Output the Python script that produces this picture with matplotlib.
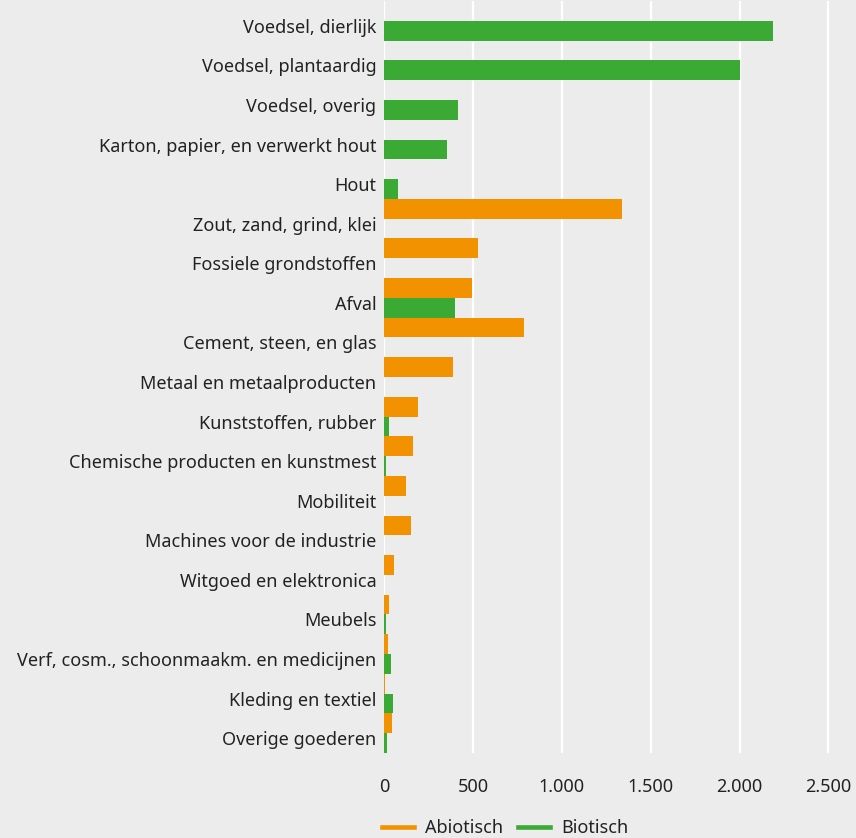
import matplotlib
matplotlib.use("Agg")
import matplotlib.pyplot as plt
import matplotlib.transforms as mtransforms
from matplotlib.lines import Line2D
from matplotlib.ticker import FuncFormatter
import numpy as np

plt.rcParams['font.family'] = ['Noto Sans', 'DejaVu Sans']

categories = [
    "Voedsel, dierlijk",
    "Voedsel, plantaardig",
    "Voedsel, overig",
    "Karton, papier, en verwerkt hout",
    "Hout",
    "Zout, zand, grind, klei",
    "Fossiele grondstoffen",
    "Afval",
    "Cement, steen, en glas",
    "Metaal en metaalproducten",
    "Kunststoffen, rubber",
    "Chemische producten en kunstmest",
    "Mobiliteit",
    "Machines voor de industrie",
    "Witgoed en elektronica",
    "Meubels",
    "Verf, cosm., schoonmaakm. en medicijnen",
    "Kleding en textiel",
    "Overige goederen",
]
abiotisch = [0, 0, 0, 0, 0, 1339, 529, 495, 787, 388, 191, 163, 124, 152, 56, 28, 22, 5, 45]
biotisch = [2188, 2002, 416, 354, 79, 0, 0, 399, 0, 0, 28, 10, 0, 0, 0, 10, 39, 51, 17]

ORANGE = "#f39200"
GREEN = "#3aaa35"
BG = "#ececec"
TEXT = "#222222"

fig = plt.figure(figsize=(8.56, 8.38), dpi=100)
fig.patch.set_facecolor(BG)
ax = fig.add_axes([384 / 856, 1 - 753 / 838, (2530 * 0.17778) / 856, 752 / 838])
ax.set_facecolor(BG)

y = np.arange(len(categories))
ax.barh(y + 0.25, abiotisch, height=0.5, color=ORANGE, zorder=3)
ax.barh(y + 0.75, biotisch, height=0.5, color=GREEN, zorder=3)

ax.set_ylim(len(categories), 0)
ax.set_xlim(0, 2530)
ax.set_xticks([0, 500, 1000, 1500, 2000, 2500])
ax.xaxis.set_major_formatter(FuncFormatter(lambda v, p: f"{int(v):,}".replace(",", ".")))
ax.set_yticks(y + 0.5)
ax.set_yticklabels(categories)

ax.grid(axis='x', color='white', linewidth=1.6, zorder=0)
ax.set_axisbelow(True)
for s in ax.spines.values():
    s.set_visible(False)
ax.tick_params(axis='y', length=0, pad=5.5, labelsize=13.0, labelcolor=TEXT)
ax.tick_params(axis='x', length=0, pad=18, labelsize=13.0, labelcolor=TEXT)

# labels sit a bit below the middle of each pair of bars
shift = mtransforms.ScaledTranslation(0, -5 / 100, fig.dpi_scale_trans)
for lbl in ax.get_yticklabels():
    lbl.set_transform(lbl.get_transform() + shift)

handles = [Line2D([], [], color=ORANGE, linewidth=3.3),
           Line2D([], [], color=GREEN, linewidth=3.3)]
fig.legend(handles, ["Abiotisch", "Biotisch"], loc='center',
           bbox_to_anchor=(505 / 856, 1 - 828 / 838), ncol=2, frameon=False,
           fontsize=13.0, handlelength=1.8, handletextpad=0.6, columnspacing=0.8,
           labelcolor=TEXT)

fig.savefig("out.png", dpi=100, facecolor=BG)
